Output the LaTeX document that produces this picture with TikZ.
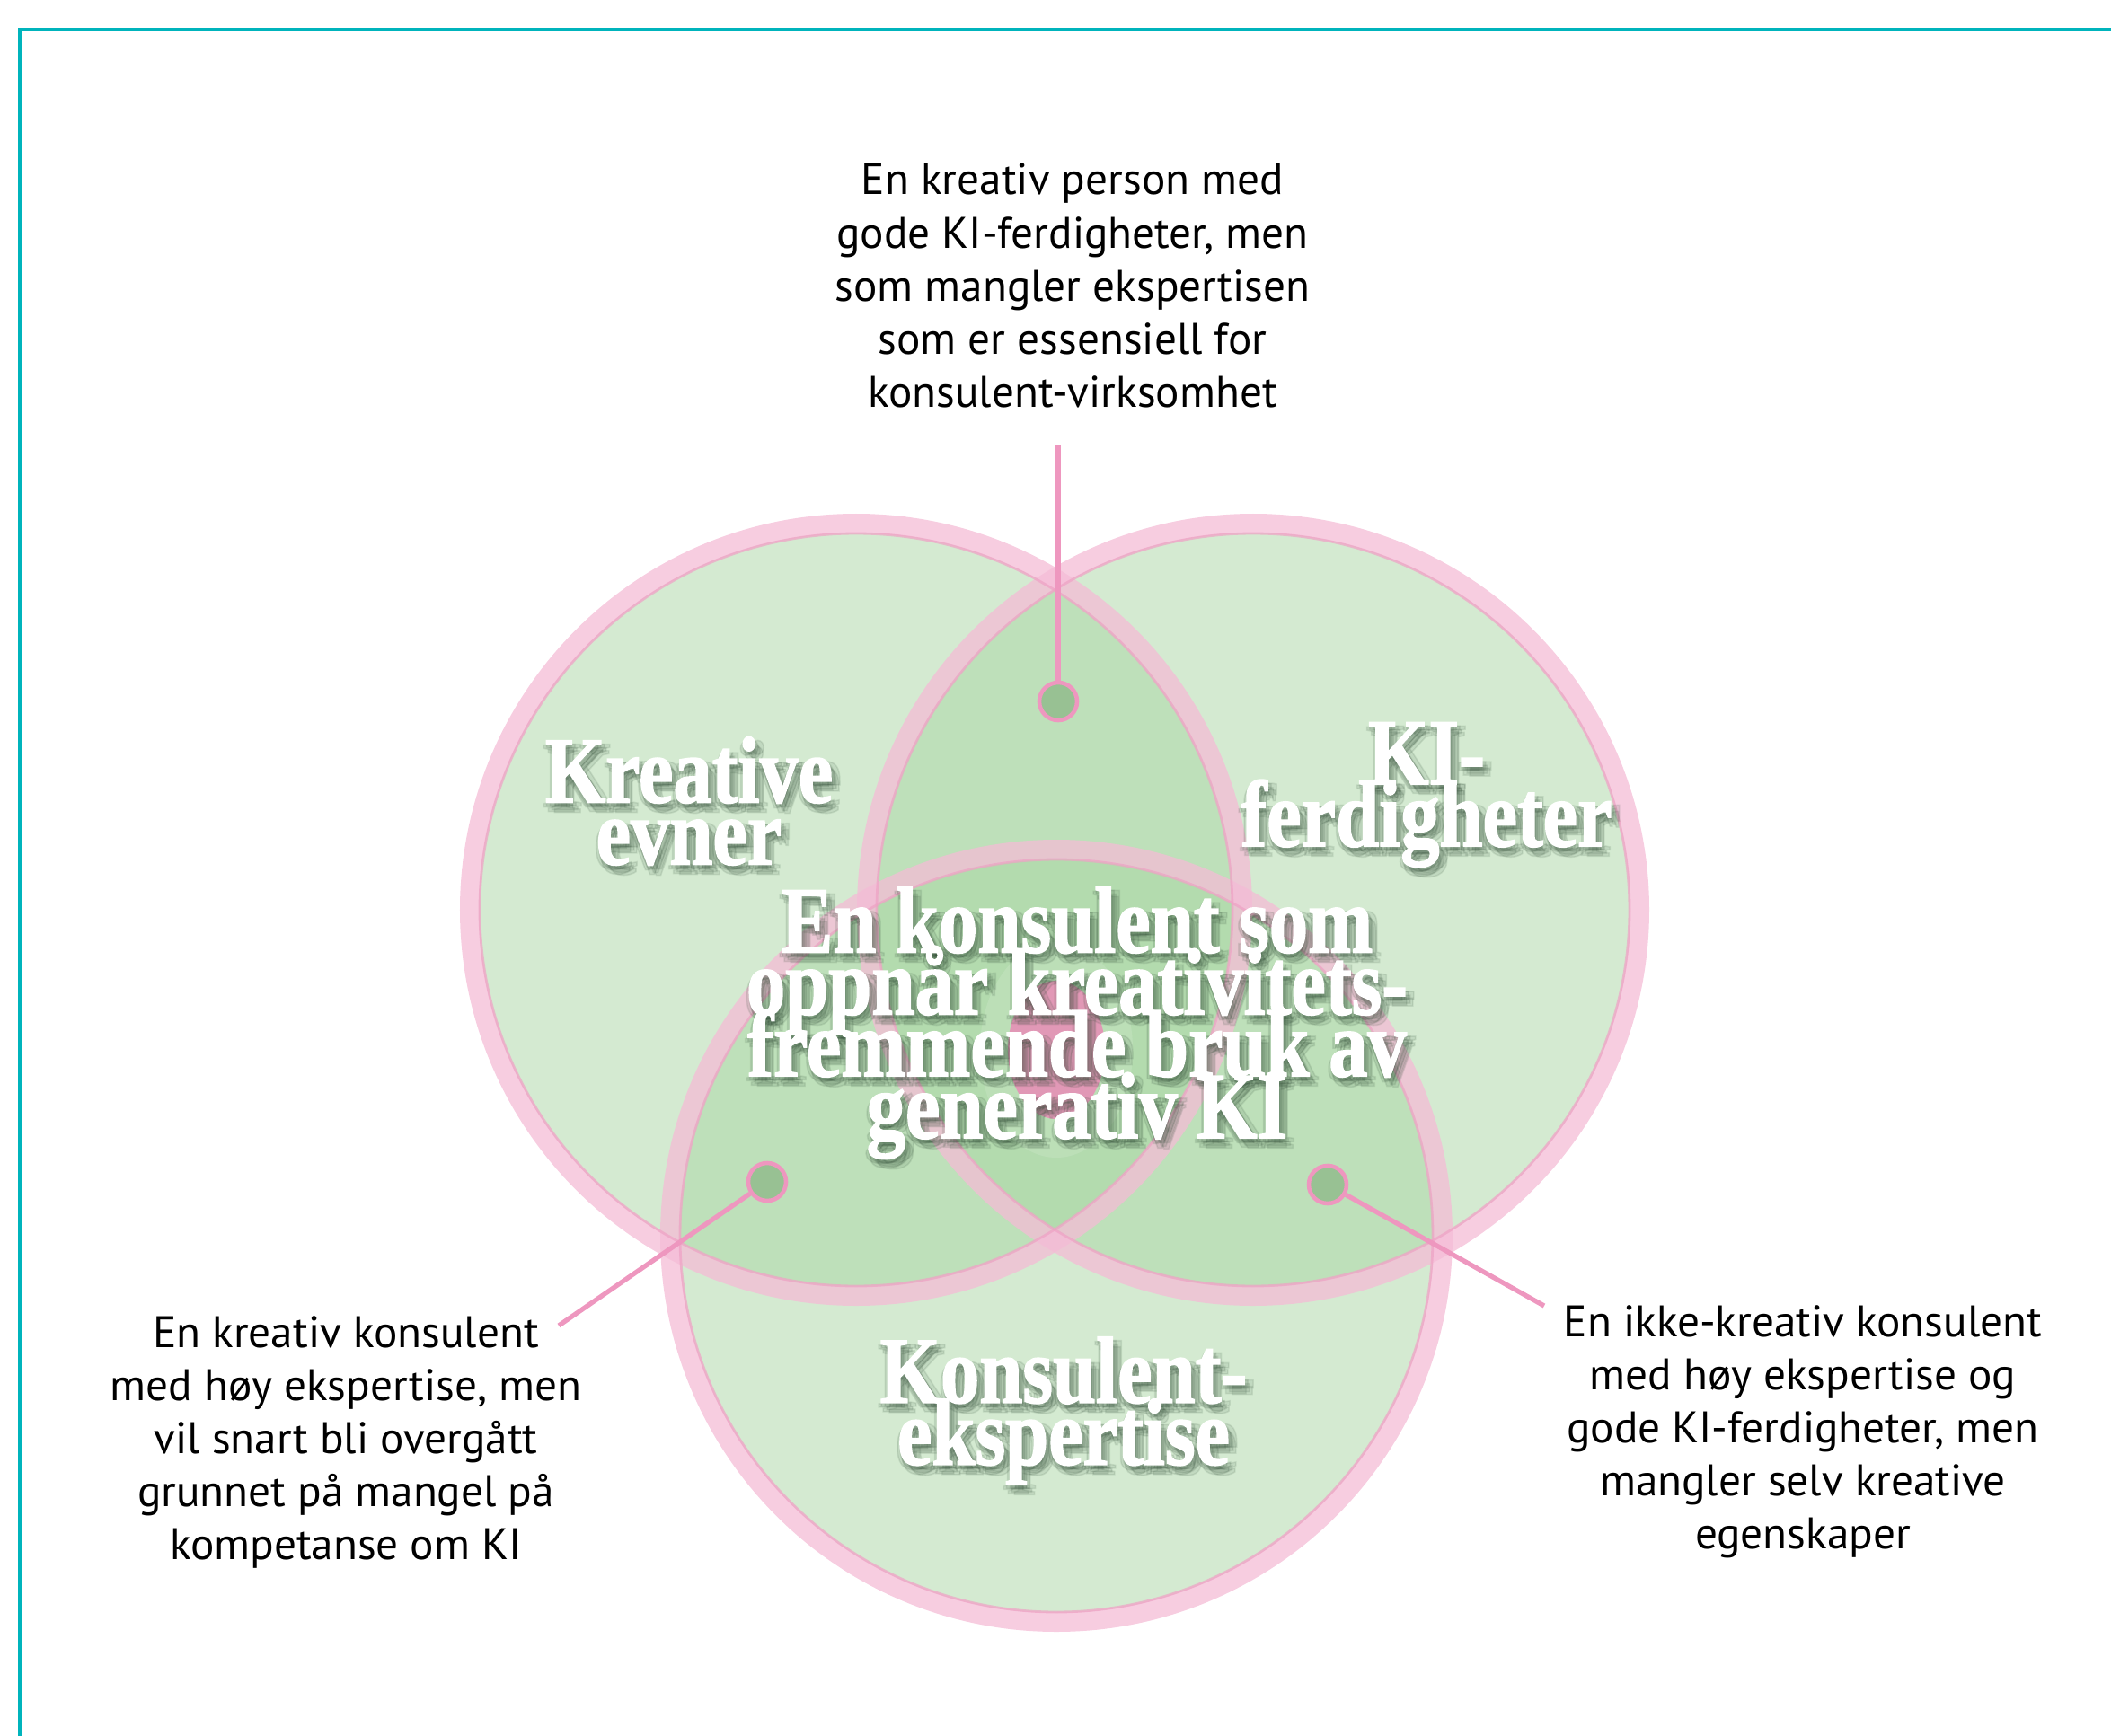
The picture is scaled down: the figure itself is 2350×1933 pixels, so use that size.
\documentclass[tikz,border=0pt]{standalone}
\usepackage{fontspec}
\setmainfont{PT Sans}
\newfontfamily\tittelfont[FakeStretch=0.82,FakeBold=1.5]{Liberation Serif}
\newcommand\tittelform{\tittelfont\bfseries\fontsize{30}{19.6}\selectfont\lineskiplimit=-50pt\relax}
\definecolor{rand}{HTML}{00B4BC}
\definecolor{gronn}{HTML}{A9D6A3}
\definecolor{ring}{HTML}{F4BCD6}
\definecolor{ringkant}{HTML}{EFA2C5}
\definecolor{pekerfarge}{HTML}{EE97BF}
\definecolor{kjerne}{HTML}{E98CB6}
\definecolor{skyggefarge}{HTML}{2F4A35}
\tikzset{
  sirkelfyll/.style={fill=gronn, fill opacity=0.5},
  sirkelring/.style={draw=ring, line width=0.22cm, draw opacity=0.75},
  sirkelkant/.style={draw=ringkant, line width=0.8pt, draw opacity=0.7},
  peker/.style={draw=pekerfarge, line width=1.5pt},
  prikk/.style={circle, draw=pekerfarge, line width=1.3pt, fill=gronn!90!black, minimum size=0.42cm, inner sep=0pt},
  beskrivelse/.style={align=center, inner sep=0pt, text=black, font=\fontsize{14}{16.8}\selectfont},
  tittel/.style={align=center, inner sep=0pt, text=white, font=\tittelform},
  skygge/.style={tittel, text=skyggefarge, text opacity=0.11}
}
\begin{document}
\begin{tikzpicture}[x=0.01cm, y=-0.01cm]
  \useasboundingbox (0,0) rectangle (2350,1933);
  % ramme
  \draw[rand, line width=0.9pt] (22,1933) -- (22,33) -- (2350,33);
  % sirkler
  \path[sirkelfyll] (953,1013) circle (420);
  \path[sirkelfyll] (1395,1013) circle (420);
  \path[sirkelfyll] (1176,1376) circle (420);
  \draw[sirkelring] (953,1013) circle (430);
  \draw[sirkelring] (1395,1013) circle (430);
  \draw[sirkelring] (1176,1376) circle (430);
  \draw[sirkelkant] (953,1013) circle (419);
  \draw[sirkelkant] (1395,1013) circle (419);
  \draw[sirkelkant] (1176,1376) circle (419);
  % kjerne
  \fill[white, opacity=0.12] (1176,1169) ellipse (85 and 120);
  \fill[kjerne, opacity=0.85] (1176,1169) ellipse (54 and 77);
  % beskrivelser
  \node[beskrivelse] (toppTekst) at (1194,318) {En kreativ person med\\gode KI-ferdigheter, men\\som mangler ekspertisen\\som er essensiell for\\konsulent-virksomhet};
  \node[beskrivelse] (venstreTekst) at (385,1606) {En kreativ konsulent\\med høy ekspertise, men\\vil snart bli overgått\\grunnet på mangel på\\kompetanse om KI};
  \node[beskrivelse] (hoyreTekst) at (2007,1594) {En ikke-kreativ konsulent\\med høy ekspertise og\\gode KI-ferdigheter, men\\mangler selv kreative\\egenskaper};
  % pekere
  \node[prikk] (toppPrikk) at (1178,781) {};
  \node[prikk] (venstrePrikk) at (854,1316) {};
  \node[prikk] (hoyrePrikk) at (1478,1319) {};
  \coordinate (toppEnde) at (1178,495);
  \coordinate (venstreEnde) at (622,1476);
  \coordinate (hoyreEnde) at (1719,1454);
  \draw[peker] (toppEnde) -- (toppPrikk);
  \draw[peker] (venstreEnde) -- (venstrePrikk);
  \draw[peker] (hoyreEnde) -- (hoyrePrikk);
  % titler med uskarp skygge
  \foreach \dx/\dy [count=\i] in {0/4,4/4,-3/5,6/8,2/10,10/4,9/11} {
    \node[skygge] (kreativSkygge\i) at (767+\dx,892+\dy) {Kreative\\evner};
    \node[skygge] (kiSkygge\i) at (1588+\dx,885+\dy) {KI-\\ferdigheter};
    \node[skygge] (senterSkygge\i) at (1199+\dx,1139+\dy) {En konsulent som\\oppnår kreativitets-\\fremmende bruk av\\generativ KI};
    \node[skygge] (ekspertSkygge\i) at (1184+\dx,1571+\dy) {Konsulent-\\ekspertise};
  }
  \node[tittel] (kreativ) at (767,892) {Kreative\\evner};
  \node[tittel] (ki) at (1588,885) {KI-\\ferdigheter};
  \node[tittel] (senter) at (1199,1139) {En konsulent som\\oppnår kreativitets-\\fremmende bruk av\\generativ KI};
  \node[tittel] (ekspert) at (1184,1571) {Konsulent-\\ekspertise};
\end{tikzpicture}
\end{document}
